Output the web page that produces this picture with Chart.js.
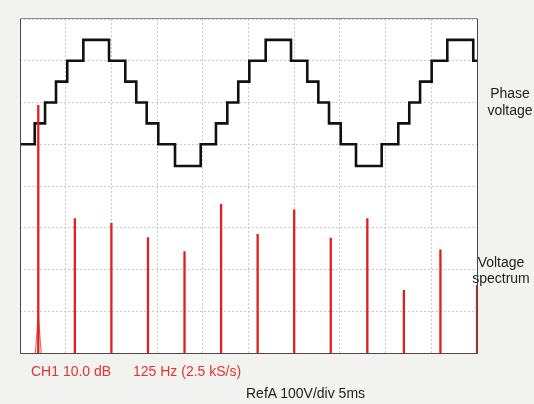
<!DOCTYPE html>
<html>
<head>
<meta charset="utf-8">
<script src="https://cdn.jsdelivr.net/npm/chart.js@4.4.1/dist/chart.umd.min.js"></script>
<style>
	html, body { margin: 0; padding: 0; background: #f2f2f0; }
	#wrap { position: relative; width: 534px; height: 404px; overflow: hidden; font-family: "Liberation Sans", Arial, sans-serif; }
	#scope { position: absolute; left: 0; top: 0; }
	.lbl { position: absolute; white-space: nowrap; font-size: 14px; line-height: 16px; }
	.red { color: #e0352d; }
	.side { color: #222; text-align: center; width: 62px; }
</style>
</head>
<body>
<div id="wrap">
	<canvas id="scope" width="534" height="404"></canvas>
	<div class="lbl side" style="left:479px; top:85px; line-height:16.7px;">Phase<br>voltage</div>
	<div class="lbl side" style="left:470px; top:255px; line-height:15.5px;">Voltage<br>spectrum</div>
	<div class="lbl red" style="left:31px; top:363px;">CH1 10.0 dB</div>
	<div class="lbl red" style="left:133px; top:363px;">125 Hz (2.5 kS/s)</div>
	<div class="lbl" style="left:246px; top:385px; color:#222;">RefA 100V/div 5ms</div>
</div>
<script>
// phase voltage, stepped waveform (time in ms, level in V, value starts at that time)
const stepTimesMs = [0, 1.61, 2.74, 3.94, 5.17, 6.93, 9.74, 11.52, 12.72, 13.86, 15.13, 16.96,
	19.77, 21.44, 22.68, 23.88, 25.09, 26.88, 29.65, 31.43, 32.64, 33.81, 35.09, 36.76,
	39.57, 41.39, 42.59, 43.77, 45.04, 46.75, 49.59, 50];
const stepVolts = [0, 50, 100, 150, 200, 250, 200, 150, 100, 50, 0, -52,
	0, 50, 100, 150, 200, 250, 200, 150, 100, 50, 0, -52,
	0, 50, 100, 150, 200, 250, 200, 200];

// voltage spectrum, odd harmonics (Hz, dB above screen bottom)
const harmonicHz = [50, 150, 250, 350, 450, 550, 650, 750, 850, 950, 1050, 1150, 1250];
const harmonicDb = [59.4, 32.3, 31.2, 27.7, 24.4, 35.7, 28.5, 34.4, 27.6, 32.3, 15.1, 24.8, 16.3];

// skirt around the fundamental peak
const skirtHz = [42, 50, 58];
const skirtDb = [0, 9, 0];

const wavePoints = stepTimesMs.map((t, i) => ({ x: t, y: stepVolts[i] }));

const spectrumPoints = [];
harmonicHz.forEach((f, i) => {
	spectrumPoints.push({ x: f, y: 0 });
	spectrumPoints.push({ x: f, y: harmonicDb[i] });
	spectrumPoints.push({ x: f, y: null }); // break the line between harmonics
});

const skirtPoints = skirtHz.map((f, i) => ({ x: f, y: skirtDb[i] }));

const gridStyle = {
	color: '#c9c9c9',
	lineWidth: 1,
	drawTicks: false
};

// white screen + frame around it
const screenPlugin = {
	id: 'screen',
	beforeDraw(chart) {
		const a = chart.chartArea;
		const ctx = chart.ctx;
		ctx.save();
		ctx.fillStyle = '#ffffff';
		ctx.fillRect(a.left, a.top, a.right - a.left, a.bottom - a.top);
		ctx.restore();
	},
	afterDraw(chart) {
		const a = chart.chartArea;
		const ctx = chart.ctx;
		ctx.save();
		ctx.lineWidth = 1;
		ctx.strokeStyle = '#8a8a8a';
		ctx.beginPath();
		ctx.moveTo(a.left + 0.5, a.top - 0.5);
		ctx.lineTo(a.right + 0.5, a.top - 0.5);
		ctx.stroke();
		ctx.strokeStyle = '#4a4a4a';
		ctx.beginPath();
		ctx.moveTo(a.left + 0.5, a.top);
		ctx.lineTo(a.left + 0.5, a.bottom + 0.5);
		ctx.lineTo(a.right + 0.5, a.bottom + 0.5);
		ctx.lineTo(a.right + 0.5, a.top);
		ctx.stroke();
		ctx.restore();
	}
};

new Chart(document.getElementById('scope'), {
	type: 'line',
	data: {
		datasets: [{
			label: 'Voltage spectrum',
			data: spectrumPoints,
			xAxisID: 'xf',
			yAxisID: 'ydb',
			borderColor: '#e01f1f',
			borderWidth: 2.3,
			pointRadius: 0,
			spanGaps: false,
			tension: 0
		}, {
			label: 'Fundamental skirt',
			data: skirtPoints,
			xAxisID: 'xf',
			yAxisID: 'ydb',
			borderColor: 'rgba(224, 40, 40, 0.7)',
			borderWidth: 1.2,
			pointRadius: 0,
			tension: 0
		}, {
			label: 'Phase voltage',
			data: wavePoints,
			xAxisID: 'x',
			yAxisID: 'y',
			borderColor: '#111111',
			borderWidth: 2.6,
			pointRadius: 0,
			stepped: 'before',
			tension: 0
		}]
	},
	options: {
		responsive: false,
		animation: false,
		devicePixelRatio: 1,
		layout: {
			padding: { left: 20, top: 19, right: 57, bottom: 51 }
		},
		plugins: {
			legend: { display: false },
			tooltip: { enabled: false }
		},
		scales: {
			x: {
				type: 'linear',
				min: 0,
				max: 50,
				ticks: { display: false, stepSize: 5 },
				grid: gridStyle,
				border: { display: false, dash: [2, 2] }
			},
			y: {
				type: 'linear',
				min: -500,
				max: 300,
				ticks: { display: false, stepSize: 100 },
				grid: gridStyle,
				border: { display: false, dash: [2, 2] }
			},
			xf: {
				type: 'linear',
				display: false,
				min: 0,
				max: 1250
			},
			ydb: {
				type: 'linear',
				display: false,
				min: 0,
				max: 80
			}
		}
	},
	plugins: [screenPlugin]
});
</script>
</body>
</html>
